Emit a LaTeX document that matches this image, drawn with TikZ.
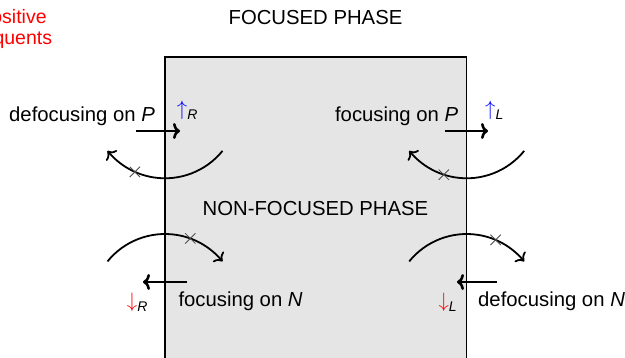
\documentclass[tikz,border=0pt]{standalone}
\usepackage{fontspec}
\setmainfont{Liberation Sans}
\usetikzlibrary{arrows.meta,bending,shapes.misc}
\definecolor{phase}{gray}{0.9}
\begin{document}
\begin{tikzpicture}[x=1pt,y=1pt,
  font=\fontsize{20.3}{22}\selectfont,
  lbl/.style={inner sep=0pt, anchor=base},
  flow/.style={line width=2.6pt, -{To[length=7pt,width=16pt,bend]}},
  turn/.style={line width=1.8pt, -{To[length=7pt,width=15pt,bend]}},
  xmark/.style={cross out, draw=black!70, line width=0.8pt, minimum size=9.5pt, inner sep=0pt}]
\useasboundingbox (0,0) rectangle (625,357);

% the non-focused region
\draw[line width=1.3pt, fill=phase] (165,300) rectangle (466.7,-20);

% headings
\node[lbl] (focused) at (315.5,332) {FOCUSED PHASE};
\node[lbl] (nonfocused) at (315.5,142) {NON-FOCUSED PHASE};
\node[inner sep=0pt, align=center, text=red, font=\fontsize{19.5}{21}\selectfont]
  (seq) at (12.5,328.5) {Positive\\sequents};

% labels on the phase boundaries
\node[lbl, anchor=base east] (defP) at (155,235) {defocusing on \textit{P}};
\node[lbl, anchor=base west] (upR) at (176.7,241)
  {\textcolor{blue}{$\uparrow$}\raisebox{-4pt}{\fontsize{14}{14}\selectfont\textit{R}}};
\node[lbl, anchor=base east] (focP) at (458.3,235.3) {focusing on \textit{P}};
\node[lbl, anchor=base west] (upL) at (485,241)
  {\textcolor{blue}{$\uparrow$}\raisebox{-4pt}{\fontsize{14}{14}\selectfont\textit{L}}};
\node[lbl, anchor=base west] (focN) at (178.3,50.3) {focusing on \textit{N}};
\node[lbl, anchor=base west] (dnR) at (126.7,50)
  {\textcolor{red}{$\downarrow$}\raisebox{-4pt}{\fontsize{14}{14}\selectfont\textit{R}}};
\node[lbl, anchor=base west] (defN) at (478,50.3) {defocusing on \textit{N}};
\node[lbl, anchor=base west] (dnL) at (438.3,50)
  {\textcolor{red}{$\downarrow$}\raisebox{-4pt}{\fontsize{14}{14}\selectfont\textit{L}}};

% crossing arrows
\coordinate (aTLs) at (136,226);  \coordinate (aTLe) at (180,226);
\coordinate (aTRs) at (445,226);  \coordinate (aTRe) at (488,226);
\coordinate (aBLs) at (187,75);   \coordinate (aBLe) at (143,75);
\coordinate (aBRs) at (497,75);   \coordinate (aBRe) at (457,75);
\draw[flow] (aTLs) -- (aTLe);
\draw[flow] (aTRs) -- (aTRe);
\draw[flow] (aBLs) -- (aBLe);
\draw[flow] (aBRs) -- (aBRe);

% blocked turning arcs
\coordinate (cTL) at (165,252.7);
\coordinate (cTR) at (466.7,252.7);
\coordinate (cBL) at (165,49);
\coordinate (cBR) at (466.7,49);
\draw[turn] ([shift={(-39:74)}]cTL) arc[start angle=-39, end angle=-141, radius=74];
\draw[turn] ([shift={(-39:74)}]cTR) arc[start angle=-39, end angle=-141, radius=74];
\draw[turn] ([shift={(141:74)}]cBL) arc[start angle=141, end angle=39, radius=74];
\draw[turn] ([shift={(141:74)}]cBR) arc[start angle=141, end angle=39, radius=74];
\node[xmark] (xTL) at ([shift={(-114:74)}]cTL) {};
\node[xmark] (xTR) at ([shift={(-108:74)}]cTR) {};
\node[xmark] (xBL) at ([shift={(70:74)}]cBL) {};
\node[xmark] (xBR) at ([shift={(67:74)}]cBR) {};
\end{tikzpicture}
\end{document}
